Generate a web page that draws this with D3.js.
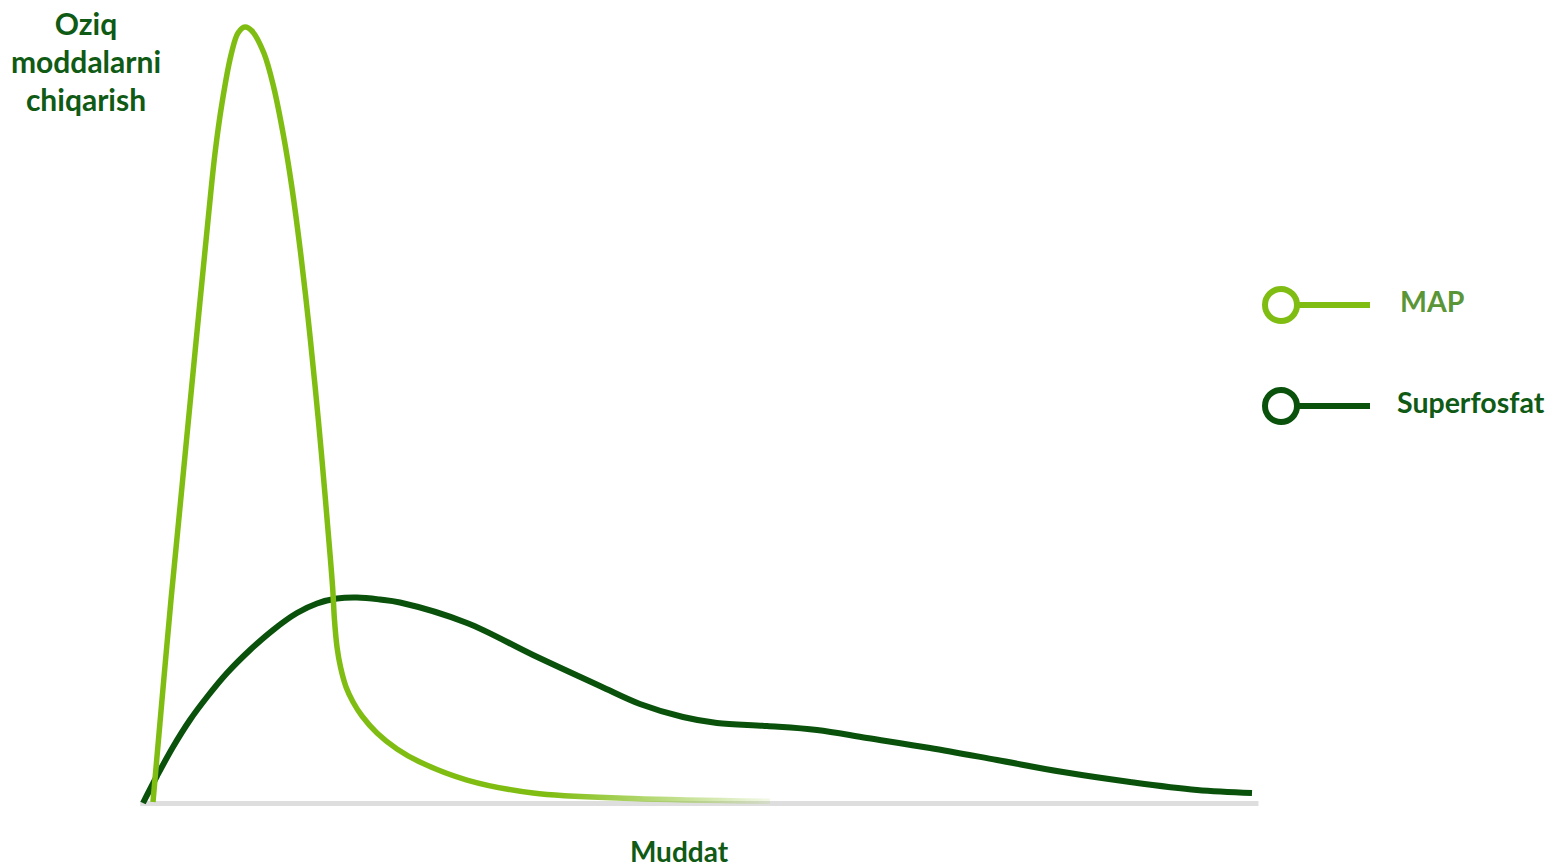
<!DOCTYPE html>
<html>
<head>
<meta charset="utf-8">
<script src="https://cdn.jsdelivr.net/npm/d3@7"></script>
<style>
  html, body { margin: 0; padding: 0; background: #ffffff; }
  svg { display: block; }
  text { font-family: Lato, "Open Sans", sans-serif; font-weight: 700; }
</style>
</head>
<body>
<svg id="chart" width="1552" height="868"></svg>
<script>
// ---- Data (x: Muddat, arbitrary time units 0..100; y: nutrient release, 0..100) ----
const seriesNames = ["MAP", "Superfosfat"];
const yTitleLines = ["Oziq", "moddalarni", "chiqarish"];
const xTitle = "Muddat";

const mapX = [0.90, 1.71, 2.52, 3.51, 4.68, 5.86, 6.49, 7.12, 7.93, 8.56, 9.19, 9.82, 10.89, 11.77, 12.68, 13.41, 14.20, 14.89, 15.51, 16.07, 16.59, 17.08, 17.25, 17.48, 17.79, 18.29, 18.92, 19.73, 21.08, 22.88, 24.95, 29.19, 35.14, 44.14, 56.49];
const mapY = [0.13, 13.27, 26.16, 40.72, 57.99, 75.13, 83.76, 90.21, 96.39, 99.23, 100, 99.48, 96.65, 92.27, 85.82, 79.38, 70.88, 62.24, 53.61, 45.10, 36.47, 27.84, 23.58, 20.10, 17.53, 14.95, 13.02, 11.21, 9.02, 6.96, 5.28, 2.96, 1.29, 0.58, 0.22];

const supX = [0, 1.26, 2.70, 4.23, 5.77, 7.57, 9.64, 11.71, 13.87, 15.68, 17.48, 19.28, 21.35, 23.15, 29.19, 35.14, 41.17, 44.77, 48.65, 51.71, 56.22, 60.72, 65.23, 70.90, 76.94, 82.88, 88.92, 94.95, 99.91];
const supY = [0, 3.48, 7.22, 10.70, 13.66, 16.75, 19.72, 22.29, 24.48, 25.71, 26.35, 26.48, 26.22, 25.84, 23.20, 19.07, 15.08, 12.76, 11.08, 10.31, 9.92, 9.41, 8.38, 7.09, 5.54, 3.99, 2.71, 1.68, 1.29];

// ---- Styles ----
const colMAP = "#80bd12";
const colSup = "#0a520c";
const colTitle = "#0f5a14";
const colMapLabel = "#5a9637";

const svg = d3.select("#chart");

const x = d3.scaleLinear().domain([0, 100]).range([143, 1253]);
const y = d3.scaleLinear().domain([0, 100]).range([803, 27]);

// axis baseline
const xAxisScale = x.copy().domain([-0.3, 100.45]).range([x(-0.3), x(100.45)]);
const axisG = svg.append("g")
  .attr("transform", `translate(0,${y(0)})`)
  .call(d3.axisBottom(xAxisScale).ticks(0).tickSize(0).tickSizeOuter(0));
axisG.select(".domain").attr("stroke", "#dedede").attr("stroke-width", 5);
axisG.selectAll(".tick").remove();

// line generator
const line = d3.line().x(d => x(d[0])).y(d => y(d[1])).curve(d3.curveCatmullRom.alpha(0.5));

const supData = d3.zip(supX, supY);
const mapData = d3.zip(mapX, mapY);

// gradient fade for MAP tail
const defs = svg.append("defs");
const grad = defs.append("linearGradient")
  .attr("id", "mapFade")
  .attr("gradientUnits", "userSpaceOnUse")
  .attr("x1", x(0)).attr("y1", 0)
  .attr("x2", x(56.5)).attr("y2", 0);
grad.append("stop").attr("offset", "0%").attr("stop-color", colMAP).attr("stop-opacity", 1);
grad.append("stop").attr("offset", "65%").attr("stop-color", colMAP).attr("stop-opacity", 1);
grad.append("stop").attr("offset", "100%").attr("stop-color", colMAP).attr("stop-opacity", 0.1);

svg.append("path")
  .datum(supData)
  .attr("d", line)
  .attr("fill", "none")
  .attr("stroke", colSup)
  .attr("stroke-width", 6)
  .attr("stroke-linecap", "butt")
  .attr("stroke-linejoin", "round");

svg.append("path")
  .datum(mapData)
  .attr("d", line)
  .attr("fill", "none")
  .attr("stroke", "url(#mapFade)")
  .attr("stroke-width", 5.5)
  .attr("stroke-linecap", "butt")
  .attr("stroke-linejoin", "round");

// y title
svg.append("text")
  .attr("x", 86)
  .attr("y", 35)
  .attr("text-anchor", "middle")
  .attr("fill", colTitle)
  .attr("font-size", 30)
  .selectAll("tspan")
  .data(yTitleLines)
  .join("tspan")
  .attr("x", 86)
  .attr("dy", (d, i) => i === 0 ? 0 : 38)
  .text(d => d);

// x title
svg.append("text")
  .attr("x", 679)
  .attr("y", 862)
  .attr("text-anchor", "middle")
  .attr("fill", colTitle)
  .attr("font-size", 28)
  .text(xTitle);

// legend
const legendColors = [colMAP, colSup];
const legendTextColors = [colMapLabel, colTitle];
const legendY = [305, 406];
const legendTextX = [1400, 1397];
const lg = svg.append("g");
seriesNames.forEach((name, i) => {
  const g = lg.append("g").attr("transform", `translate(0,${legendY[i]})`);
  g.append("line")
    .attr("x1", 1297).attr("x2", 1370).attr("y1", 0).attr("y2", 0)
    .attr("stroke", legendColors[i]).attr("stroke-width", 6);
  g.append("circle")
    .attr("cx", 1281).attr("cy", 0).attr("r", 16)
    .attr("fill", "#fff").attr("stroke", legendColors[i]).attr("stroke-width", 6);
  g.append("text")
    .attr("x", legendTextX[i]).attr("y", 7)
    .attr("fill", legendTextColors[i])
    .attr("font-size", 28.5)
    .text(name);
});
</script>
</body>
</html>
